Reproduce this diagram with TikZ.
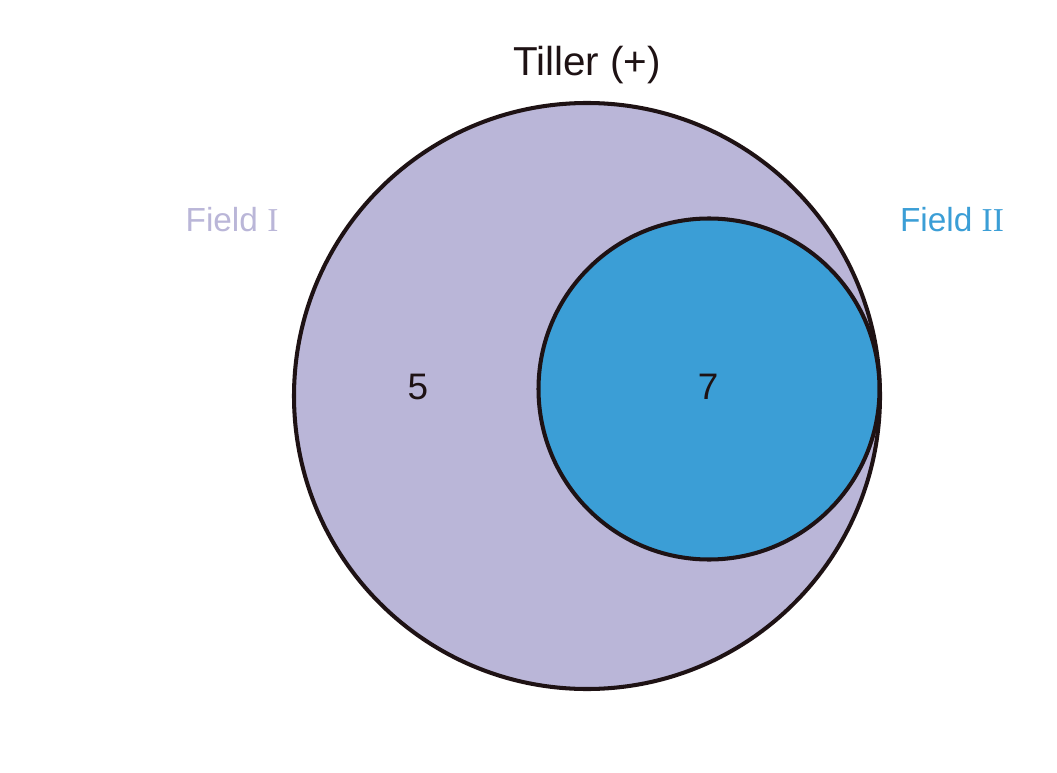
\documentclass[tikz,border=0pt]{standalone}
\usepackage{fontspec}
\setmainfont{Liberation Sans}
\newfontfamily\romanfont{Liberation Serif}
\usetikzlibrary{positioning}
\definecolor{fieldone}{RGB}{186,182,216}
\definecolor{fieldtwo}{RGB}{59,158,214}
\definecolor{rimcolor}{RGB}{30,18,20}

\begin{document}
\begin{tikzpicture}[x=0.02cm,y=-0.02cm,
    setcircle/.style={circle, draw=rimcolor, line width=2.3pt, inner sep=0pt},
    setlabel/.style={font=\fontsize{19}{22}\selectfont},
    count/.style={font=\fontsize{21}{24}\selectfont, text=rimcolor}
]
\useasboundingbox (0,0) rectangle (1057,773);

% Sets
\node[setcircle, fill=fieldone, minimum size=586*0.02cm] (big) at (587,396) {};
\node[setcircle, fill=fieldtwo, minimum size=341*0.02cm] (small) at (709,389) {};

% Labels
\node[font=\fontsize{23}{26}\selectfont, text=rimcolor] (title) at (587,65) {Tiller (+)};
\node[setlabel, text=fieldone] (labone) at (232,220) {Field {\romanfont I}};
\node[setlabel, text=fieldtwo] (labtwo) at (952,220) {Field {\romanfont II}};

% Counts
\node[count] (onlyone) at (418,387) {5};
\node[count] (both) at (708,387) {7};

\end{tikzpicture}
\end{document}
